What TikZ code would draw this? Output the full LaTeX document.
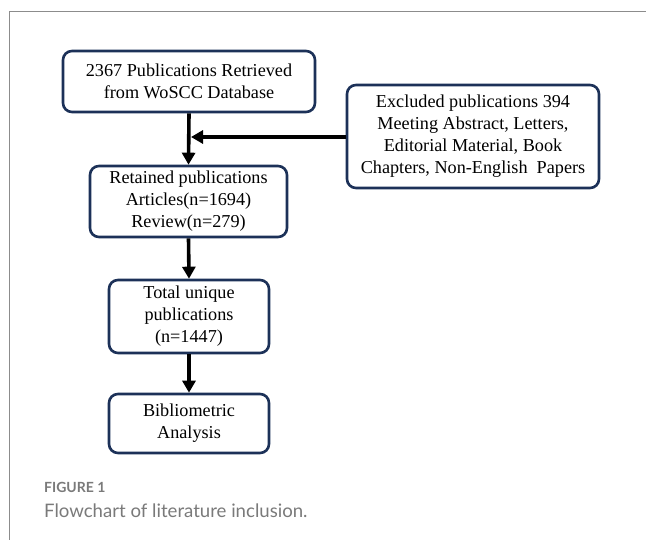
\documentclass[tikz,border=0pt]{standalone}
\usepackage{fontspec}
\setmainfont{Liberation Serif}
\newfontfamily\capfont{Lato}
\usetikzlibrary{arrows.meta}
\definecolor{boxc}{HTML}{1C3158}
\definecolor{capgray}{HTML}{7A7A7A}
\definecolor{framegray}{HTML}{8C8C8C}
\begin{document}
\begin{tikzpicture}[x=1pt,y=-1pt,
  fbox/.style={draw=boxc, line width=2.6pt, rounded corners=9pt, align=center,
    inner sep=0pt, text=black, font=\fontsize{18.2}{22}\selectfont},
  arr/.style={line width=3.6pt, -{Triangle[length=12pt,width=13pt]}},
  framel/.style={draw=framegray, line width=1pt}]
\useasboundingbox (0,0) rectangle (646,540);
\fill[white] (0,0) rectangle (646,540);
\coordinate (fl) at (9,540);
\coordinate (fc) at (9,12);
\coordinate (fr) at (646,12);
\draw[framel] (fl) -- (fc) -- (fr);

\node[fbox, minimum width=252pt, minimum height=61pt] (b1) at (189,81.5)
  {2367 Publications Retrieved\\from WoSCC Database};
\node[fbox, minimum width=197pt, minimum height=71pt] (b2) at (188.5,201.5)
  {Retained publications\\Articles(n=1694)\\Review(n=279)};
\node[fbox, minimum width=252pt, minimum height=103pt] (b3) at (473,136.5)
  {Excluded publications 394\\Meeting Abstract, Letters,\\Editorial Material, Book\\Chapters, Non-English\ \ Papers};
\node[fbox, minimum width=160pt, minimum height=73pt] (b4) at (189,316.5)
  {Total unique\\publications\\(n=1447)};
\node[fbox, minimum width=160pt, minimum height=59pt] (b5) at (189,423.5)
  {Bibliometric\\Analysis};

\coordinate (join) at (191,137);
\draw[arr] (b1.south) -- (b2.north);
\draw[arr] (b3.west |- join) -- (join);
\draw[arr] (b2.south) -- (b4.north);
\draw[arr] (b4.south) -- (b5.north);

\node[anchor=base west, inner sep=0pt, text=capgray, font=\capfont\bfseries\fontsize{14}{16}\selectfont] (fig) at (44,492) {FIGURE 1};
\node[anchor=base west, inner sep=0pt, text=capgray, font=\capfont\fontsize{18.6}{22}\selectfont] (cap) at (44,517) {Flowchart of literature inclusion.};
\end{tikzpicture}
\end{document}
